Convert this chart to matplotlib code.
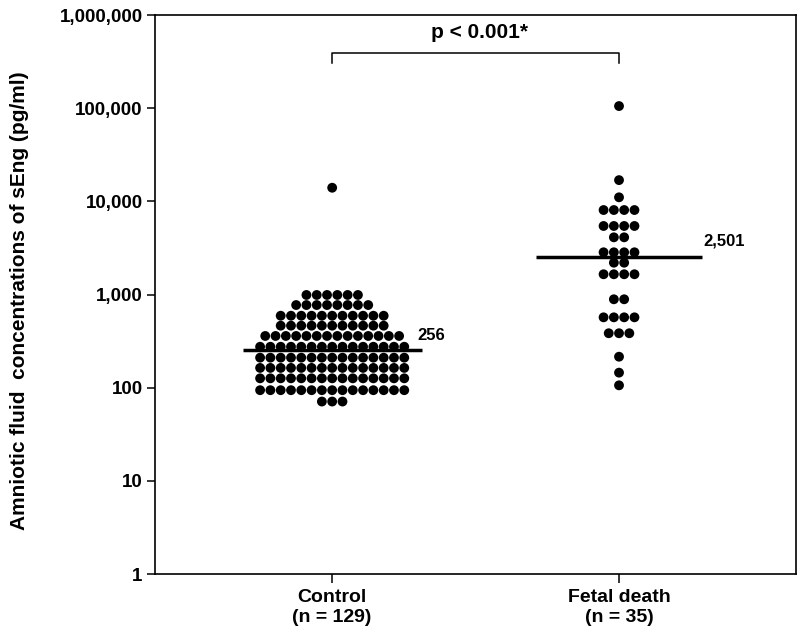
import numpy as np
import matplotlib
matplotlib.use("Agg")
import matplotlib.pyplot as plt
from matplotlib.ticker import FixedLocator, NullLocator

plt.rcParams['font.family'] = ['Liberation Sans', 'DejaVu Sans']
plt.rcParams['font.weight'] = 'bold'

# ---- data ----
categories = ["Control\n(n = 129)", "Fetal death\n(n = 35)"]
control_levels = [14000, 989, 771, 592, 463, 359, 275, 210, 163, 126, 94, 71]
control_counts = [1, 6, 8, 11, 11, 14, 15, 15, 15, 15, 15, 3]
fetal_levels = [105400, 16900, 11050, 8070, 5440, 4110, 2840, 2195, 1650, 889, 569, 384, 215, 145, 106]
fetal_counts = [1, 1, 1, 4, 4, 2, 4, 2, 4, 2, 4, 3, 1, 1, 1]
medians = [256, 2501]
median_labels = ["256", "2,501"]
yticks = [1, 10, 100, 1000, 10000, 100000, 1000000]
yticklabels = ["1", "10", "100", "1,000", "10,000", "100,000", "1,000,000"]
p_text = "p < 0.001*"

fig = plt.figure(figsize=(8.0, 6.39), dpi=100)
ax = fig.add_axes([0.194, 0.1017, 0.801, 0.8748])

spacing = 0.0359
groups = [(control_levels, control_counts), (fetal_levels, fetal_counts)]
for gi, (levels, counts) in enumerate(groups):
    xpos = gi + 1
    xs, ys = [], []
    for v, n in zip(levels, counts):
        offs = (np.arange(n) - (n - 1) / 2.0) * spacing
        xs.extend(xpos + offs)
        ys.extend([v] * n)
    ax.scatter(xs, ys, s=50, color='black', edgecolors='none', zorder=3)

half_widths = [(0.31, 0.314), (0.289, 0.289)]
for gi, m in enumerate(medians):
    xpos = gi + 1
    hl, hr = half_widths[gi]
    ax.plot([xpos - hl, xpos + hr], [m, m], color='black', lw=2.5, zorder=4,
            solid_capstyle='butt')

ax.text(1.296, 359, median_labels[0], ha='left', va='center', fontsize=12, fontweight='bold')
ax.text(2.293, 3750, median_labels[1], ha='left', va='center', fontsize=12, fontweight='bold')

# significance bracket
ax.plot([1, 1, 2, 2], [305600, 390800, 390800, 305600], color='black', lw=1.1)
ax.text(1.515, 570000, p_text, ha='center', va='baseline', fontsize=15, fontweight='bold')

ax.set_yscale('log')
ax.set_ylim(1, 1000000)
ax.set_xlim(0.383, 2.617)
ax.yaxis.set_major_locator(FixedLocator(yticks))
ax.yaxis.set_minor_locator(NullLocator())
ax.set_yticklabels(yticklabels)
ax.set_xticks([1, 2])
ax.set_xticklabels(categories, linespacing=1.3)

ax.tick_params(axis='y', length=6, width=1.1, pad=3, labelsize=13.5)
ax.tick_params(axis='x', length=6.5, width=1.1, pad=4, labelsize=14)
for lab in ax.get_xticklabels() + ax.get_yticklabels():
    lab.set_fontweight('bold')
for sp in ax.spines.values():
    sp.set_linewidth(1.2)

fig.text(0.024, 0.53, "Amniotic fluid  concentrations of sEng (pg/ml)", rotation=90,
         ha='center', va='center', fontsize=15, fontweight='bold')

fig.savefig("out.png", dpi=100)
